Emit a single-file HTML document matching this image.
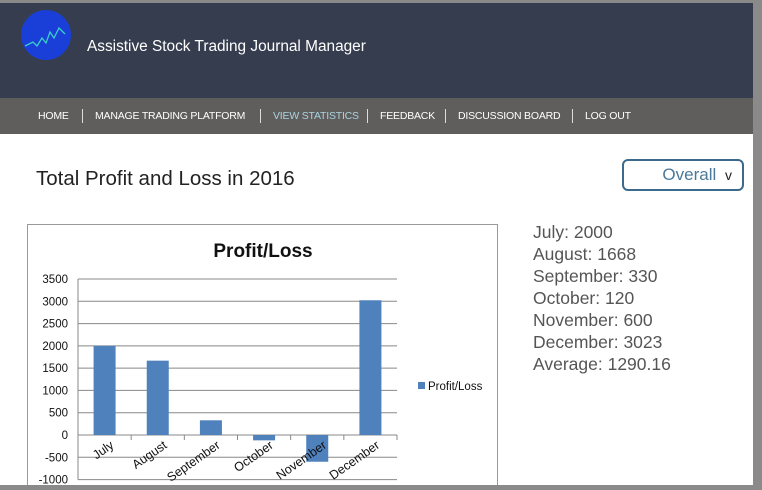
<!DOCTYPE html>
<html><head><meta charset="utf-8"><style>
body{margin:0;width:762px;height:490px;overflow:hidden;background:#8a8a8a;font-family:"Liberation Sans",sans-serif;position:relative}
#page{position:absolute;left:0;top:3px;width:753px;height:482px;background:#fff;overflow:hidden}
#hdr{position:absolute;left:0;top:0;width:753px;height:95px;background:#363d4f}
#nav{position:absolute;left:0;top:95px;width:753px;height:36px;background:#5f5e5d;color:#fff;font-size:10.5px;letter-spacing:-0.2px;line-height:36px}
#nav span{position:absolute;top:0}
.sep{width:1px;height:14px;background:#ddd;top:11px!important}
.stats{position:absolute;left:533px;top:218px;font-size:17.5px;line-height:22px;color:#555}
</style></head><body>
<div id="page">
<div id="hdr">
<svg style="position:absolute;left:19px;top:5px" width="54" height="54"><circle cx="27" cy="27" r="25" fill="#1a3fd8"/><polyline points="6,38 14,34 18,38 23,30 27,35 31,24 35,30 40,20 46,26" fill="none" stroke="#3ad0c8" stroke-width="1.3"/></svg>
<div style="position:absolute;left:87px;top:35px;color:#fff;font-size:15.4px">Assistive Stock Trading Journal Manager</div>
</div>
<div id="nav">
<span style="left:38px">HOME</span><span class="sep" style="left:82px"></span>
<span style="left:95px">MANAGE TRADING PLATFORM</span><span class="sep" style="left:260px"></span>
<span style="left:273px;color:#a9d3e0">VIEW STATISTICS</span><span class="sep" style="left:367px"></span>
<span style="left:380px">FEEDBACK</span><span class="sep" style="left:445px"></span>
<span style="left:458px">DISCUSSION BOARD</span><span class="sep" style="left:572px"></span>
<span style="left:585px">LOG OUT</span>
</div>
<div style="position:absolute;left:36px;top:164px;font-size:20.5px;color:#222">Total Profit and Loss in 2016</div>
<div style="position:absolute;left:622px;top:156px;width:122px;height:32px;border:2px solid #3b6a8c;border-radius:6px;box-sizing:border-box;color:#4a7a9a;font-size:17px;line-height:27px;text-align:right;padding-right:10px">Overall <span style="color:#222;font-size:14px;margin-left:4px">v</span></div>
<div class="stats">July: 2000<br>August: 1668<br>September: 330<br>October: 120<br>November: 600<br>December: 3023<br>Average: 1290.16</div>
<svg id="chart" style="position:absolute;left:0;top:-3px" width="762" height="490"></svg>
</div>
<script>
const categories=["July","August","September","October","November","December"];
const values=[2000,1668,330,-120,-600,3023];
const ticks=[3500,3000,2500,2000,1500,1000,500,0,-500,-1000];
const ns="http://www.w3.org/2000/svg",svg=document.getElementById('chart');
function mk(t,a,txt){const e=document.createElementNS(ns,t);for(const k in a)e.setAttribute(k,a[k]);if(txt!=null)e.textContent=txt;svg.appendChild(e);return e;}
const x0=78,x1=397,yTop=279,yZero=435;
const y=v=>yZero-(v/3500)*(yZero-yTop);
const bw=(x1-x0)/categories.length;
let e=mk('rect',{x:27.5,y:224.5,width:470,height:280,fill:'#fff',stroke:'#999'});

e=mk('text',{x:263,y:257,'text-anchor':'middle','font-size':19,'font-weight':'bold',fill:'#111'},'Profit/Loss');

ticks.forEach(t=>{
 e=mk('line',{x1:x0,x2:x1,y1:y(t),y2:y(t),stroke:'#888','stroke-width':1});
 
 e=mk('text',{x:68,y:y(t)+4,'text-anchor':'end','font-size':11.5,fill:'#111'},t);
 
});
mk('line',{x1:x0,x2:x0,y1:yTop,y2:y(-1000),stroke:'#888'});
categories.forEach((c,i)=>{
 const cx=x0+bw*(i+0.5),v=values[i];
 e=mk('rect',{x:cx-11,y:Math.min(y(v),yZero),width:22,height:Math.abs(y(v)-yZero),fill:'#4f81bd'});
 
 mk('line',{x1:x0+bw*(i+1),x2:x0+bw*(i+1),y1:yZero,y2:yZero+5,stroke:'#888'});
 e=mk('text',{x:cx+10,y:yZero+12,'text-anchor':'end','font-size':12.5,fill:'#111',transform:`rotate(-35 ${cx+10} ${yZero+12})`},c);
 
});
e=mk('rect',{x:418,y:382,width:7,height:7,fill:'#4f81bd'});

e=mk('text',{x:428,y:390,'font-size':11.5,fill:'#111'},'Profit/Loss');

</script>
</body></html>
